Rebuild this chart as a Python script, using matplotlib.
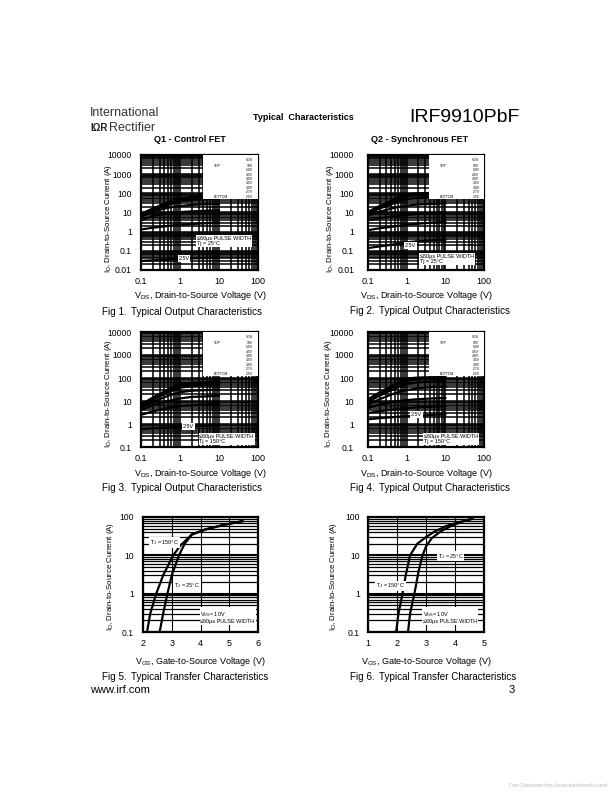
import matplotlib
matplotlib.use("Agg")
import matplotlib.pyplot as plt
from matplotlib.patches import Rectangle

plt.rcParams['font.family'] = ['Liberation Sans', 'DejaVu Sans']
plt.rcParams['mathtext.fontset'] = 'custom'
plt.rcParams['mathtext.rm'] = 'Liberation Sans'
plt.rcParams['mathtext.it'] = 'Liberation Sans'

# ---------------- data ----------------
vgs_legend = ["10V", "5.0V", "4.5V", "4.0V", "3.5V", "3.0V", "2.7V", "2.5V"]
vds_points = [0.1, 0.2, 0.5, 1, 2, 5, 10]

# Fig 1: Q1, Tj = 25C
q1_25_id = [
    [8.5, 16, 35, 55, 65, 70, 72],
    [8, 15, 32, 50, 60, 65, 68],
    [7.5, 14, 30, 45, 55, 60, 62],
    [7, 13, 25, 38, 45, 50, 52],
    [6, 11, 18, 22, 25, 27, 28],
    [4, 6.5, 9, 10.5, 11.5, 12.5, 13],
    [1.3, 1.6, 2.0, 2.3, 2.5, 2.8, 3.0],
    [0.03, 0.032, 0.035, 0.037, 0.04, 0.042, 0.044],
]
# Fig 2: Q2, Tj = 25C
q2_25_id = [
    [11, 22, 50, 90, 100, 105, 108],
    [10, 20, 45, 80, 95, 100, 100],
    [9.5, 18, 40, 70, 85, 90, 92],
    [9, 16, 32, 50, 60, 65, 68],
    [7, 11, 18, 23, 26, 28, 30],
    [4, 5, 6.5, 7.5, 8.5, 9.5, 10],
    [1.2, 1.5, 1.9, 2.3, 2.6, 3.0, 3.2],
    [0.14, 0.17, 0.22, 0.28, 0.32, 0.36, 0.38],
]
# Fig 3: Q1, Tj = 150C
q1_150_id = [
    [7, 14, 32, 55, 62, 65, 67],
    [6.5, 13, 30, 50, 58, 62, 64],
    [6, 12, 28, 46, 54, 57, 59],
    [5.5, 11, 24, 38, 45, 48, 50],
    [5, 9, 17, 24, 28, 30, 31],
    [4, 6.5, 10, 13, 15, 16, 17],
    [2.5, 3.5, 5, 6, 6.5, 7, 7.5],
    [0.6, 0.65, 0.7, 0.75, 0.8, 0.85, 0.9],
]
# Fig 4: Q2, Tj = 150C
q2_150_id = [
    [12, 24, 55, 95, 105, 108, 110],
    [11, 22, 50, 85, 98, 102, 104],
    [10, 20, 45, 75, 88, 92, 95],
    [9, 17, 35, 55, 65, 70, 72],
    [7, 12, 22, 30, 36, 40, 42],
    [5, 7, 9.5, 11, 12, 13, 13.5],
    [3, 3.6, 4.3, 4.9, 5.3, 5.7, 6],
    [1.6, 1.8, 2.0, 2.2, 2.3, 2.5, 2.6],
]

# Fig 5: Q1 transfer
q1_vgs_150 = [2.14, 2.25, 2.46, 2.7, 3.05, 3.3, 3.7, 4.2, 4.8, 5.46]
q1_id_150 = [0.1, 0.3, 1, 3, 10, 18, 35, 48, 62, 78]
q1_vgs_25 = [2.58, 2.7, 2.85, 3.0, 3.25, 3.45, 3.7, 4.2, 4.8, 5.46]
q1_id_25 = [0.1, 0.3, 1, 3, 10, 20, 35, 48, 62, 78]
# Fig 6: Q2 transfer
q2_vgs_150 = [1.97, 2.05, 2.19, 2.3, 2.45, 2.7, 3.0, 3.3, 3.7, 4.1, 4.6]
q2_id_150 = [0.1, 0.3, 1, 3, 10, 20, 30, 42, 58, 72, 90]
q2_vgs_25 = [2.38, 2.45, 2.6, 2.75, 2.88, 3.0, 3.2, 3.5, 3.9, 4.3, 4.6]
q2_id_25 = [0.1, 0.3, 1, 4, 10, 17, 28, 42, 60, 78, 90]

# ---------------- figure ----------------
W, H = 612, 792
fig = plt.figure(figsize=(6.12, 7.92), dpi=100)


def ax_at(x0, y0, x1, y1):
    return fig.add_axes([x0 / W, 1 - y1 / H, (x1 - x0) / W, (y1 - y0) / H])


def ftext(x, y, s, **kw):
    kw.setdefault('ha', 'left')
    kw.setdefault('va', 'center')
    fig.text(x / W, 1 - y / H, s, **kw)


def style_frame(ax, ypad):
    for sp in ax.spines.values():
        sp.set_linewidth(1.6)
        sp.set_color('black')
    ax.tick_params(which='both', length=0)
    ax.tick_params(axis='x', pad=5, labelsize=6.5)
    ax.tick_params(axis='y', pad=ypad, labelsize=6.2)


def output_chart(ax, curves, ylim, yticks, ylabels, ypad):
    ax.set_xscale('log')
    ax.set_yscale('log')
    for ids in curves:
        ax.plot(vds_points, ids, color='black', lw=1.6, zorder=3)
    ax.set_xlim(0.1, 100)
    ax.set_ylim(*ylim)
    ax.set_xticks([0.1, 1, 10, 100])
    ax.set_xticklabels(["0.1", "1", "10", "100"])
    ax.set_yticks(yticks)
    ax.set_yticklabels(ylabels)
    ax.grid(which='both', color='black', lw=1.1, zorder=1)
    ax.set_axisbelow(True)
    style_frame(ax, ypad)
    # legend box
    ax.add_patch(Rectangle((0.53, 0.62), 0.47, 0.38, transform=ax.transAxes,
                           facecolor='white', edgecolor='none', zorder=4))
    ax.text(0.93, 0.955, "VGS", transform=ax.transAxes, fontsize=2.4,
            ha='center', va='center', zorder=5)
    n = len(vgs_legend)
    for i, lab in enumerate(vgs_legend):
        yy = 0.905 - i * 0.038
        ax.text(0.93, yy, lab, transform=ax.transAxes, fontsize=2.4,
                ha='center', va='center', zorder=5)
    ax.text(0.62, 0.905, "TOP", transform=ax.transAxes, fontsize=2.4,
            ha='left', va='center', zorder=5)
    ax.text(0.62, 0.905 - (n - 1) * 0.038, "BOTTOM", transform=ax.transAxes,
            fontsize=2.4, ha='left', va='center', zorder=5)


bbox_w = dict(facecolor='white', edgecolor='none', pad=0.6)

# Fig 1
ax1 = ax_at(141, 155, 258, 270)
output_chart(ax1, q1_25_id, (0.01, 10000),
             [0.01, 0.1, 1, 10, 100, 1000, 10000],
             ["0.01", "0.1", "1", "10", "100", "1000", "10000"], 6.5)
ax1.text(0.48, 0.25, "≤60µs PULSE WIDTH\nTj = 25°C", transform=ax1.transAxes,
         fontsize=4, ha='left', va='center', bbox=bbox_w, zorder=6, linespacing=1.0)
ax1.text(0.32, 0.10, "2.5V", transform=ax1.transAxes, fontsize=4,
         ha='left', va='center', bbox=bbox_w, zorder=6)

# Fig 2
ax2 = ax_at(368, 155, 484, 270)
output_chart(ax2, q2_25_id, (0.01, 10000),
             [0.01, 0.1, 1, 10, 100, 1000, 10000],
             ["0.01", "0.1", "1", "10", "100", "1000", "10000"], 10)
ax2.text(0.45, 0.095, "≤60µs PULSE WIDTH\nTj = 25°C", transform=ax2.transAxes,
         fontsize=4, ha='left', va='center', bbox=bbox_w, zorder=6, linespacing=1.0)
ax2.text(0.32, 0.215, "2.5V", transform=ax2.transAxes, fontsize=4,
         ha='left', va='center', bbox=bbox_w, zorder=6)

# Fig 3
ax3 = ax_at(141, 332, 258, 447)
output_chart(ax3, q1_150_id, (0.1, 10000),
             [0.1, 1, 10, 100, 1000, 10000],
             ["0.1", "1", "10", "100", "1000", "10000"], 6.5)
ax3.text(0.50, 0.07, "≤60µs PULSE WIDTH\nTj = 150°C", transform=ax3.transAxes,
         fontsize=4, ha='left', va='center', bbox=bbox_w, zorder=6, linespacing=1.0)
ax3.text(0.36, 0.18, "2.5V", transform=ax3.transAxes, fontsize=4,
         ha='left', va='center', bbox=bbox_w, zorder=6)

# Fig 4
ax4 = ax_at(368, 332, 484, 447)
output_chart(ax4, q2_150_id, (0.1, 10000),
             [0.1, 1, 10, 100, 1000, 10000],
             ["0.1", "1", "10", "100", "1000", "10000"], 10)
ax4.text(0.48, 0.07, "≤60µs PULSE WIDTH\nTj = 150°C", transform=ax4.transAxes,
         fontsize=4, ha='left', va='center', bbox=bbox_w, zorder=6, linespacing=1.0)
ax4.text(0.37, 0.285, "2.5V", transform=ax4.transAxes, fontsize=4,
         ha='left', va='center', bbox=bbox_w, zorder=6)


def transfer_chart(ax, x150, y150, x25, y25, xlim, ypad):
    ax.set_yscale('log')
    ax.plot(x150, y150, color='black', lw=1.6, zorder=3)
    ax.plot(x25, y25, color='black', lw=1.6, zorder=3)
    ax.set_xlim(*xlim)
    ax.set_ylim(0.1, 100)
    ax.set_xticks(list(range(xlim[0], xlim[1] + 1)))
    ax.set_yticks([0.1, 1, 10, 100])
    ax.set_yticklabels(["0.1", "1", "10", "100"])
    ax.grid(which='major', axis='x', color='black', lw=0.8, zorder=1)
    ax.grid(which='major', axis='y', color='black', lw=1.5, zorder=1)
    ax.grid(which='minor', axis='y', color='black', lw=0.9, zorder=1)
    ax.set_axisbelow(True)
    style_frame(ax, ypad)


# Fig 5
ax5 = ax_at(143, 517, 258, 632)
transfer_chart(ax5, q1_vgs_150, q1_id_150, q1_vgs_25, q1_id_25, (2, 6), 6.5)
ax5.text(0.06, 0.78, "T$_J$ = 150°C", transform=ax5.transAxes, fontsize=4,
         ha='left', va='center', bbox=bbox_w, zorder=6)
ax5.text(0.27, 0.40, "T$_J$ = 25°C", transform=ax5.transAxes, fontsize=4,
         ha='left', va='center', bbox=bbox_w, zorder=6)
ax5.text(0.50, 0.13, "V$_{DS}$= 10V\n≤60µs PULSE WIDTH", transform=ax5.transAxes,
         fontsize=4, ha='left', va='center', bbox=bbox_w, zorder=6, linespacing=1.1)

# Fig 6
ax6 = ax_at(368, 517, 484, 632)
transfer_chart(ax6, q2_vgs_150, q2_id_150, q2_vgs_25, q2_id_25, (1, 5), 6)
ax6.text(0.60, 0.66, "T$_J$ = 25°C", transform=ax6.transAxes, fontsize=4,
         ha='left', va='center', bbox=bbox_w, zorder=6)
ax6.text(0.07, 0.40, "T$_J$ = 150°C", transform=ax6.transAxes, fontsize=4,
         ha='left', va='center', bbox=bbox_w, zorder=6)
ax6.text(0.47, 0.13, "V$_{DS}$= 10V\n≤60µs PULSE WIDTH", transform=ax6.transAxes,
         fontsize=4, ha='left', va='center', bbox=bbox_w, zorder=6, linespacing=1.1)

# ---------------- labels ----------------
ylab = "I$_D$, Drain-to-Source Current (A)"
for (xc, yc) in [(109, 218), (330, 218), (108, 393), (328, 393), (110, 576), (334, 576)]:
    ftext(xc, yc, ylab, rotation=90, ha='center', va='center', fontsize=5.7)

xlab_ds = "V$_{DS}$, Drain-to-Source Voltage (V)"
xlab_gs = "V$_{GS}$, Gate-to-Source Voltage (V)"
for (xc, yc) in [(200, 296), (426, 296), (200, 473), (426, 473)]:
    ftext(xc, yc, xlab_ds, ha='center', fontsize=6.5)
for (xc, yc) in [(200, 662), (426, 662)]:
    ftext(xc, yc, xlab_gs, ha='center', fontsize=6.5)

captions = [
    (102, 312, "Fig 1.", "Typical Output Characteristics"),
    (350, 311, "Fig 2.", "Typical Output Characteristics"),
    (102, 488, "Fig 3.", "Typical Output Characteristics"),
    (350, 488, "Fig 4.", "Typical Output Characteristics"),
    (102, 677, "Fig 5.", "Typical Transfer Characteristics"),
    (350, 677, "Fig 6.", "Typical Transfer Characteristics"),
]
for (x0, y0, a, b) in captions:
    ftext(x0, y0, a, fontsize=7.1)
    ftext(x0 + 29, y0, b, fontsize=7.1)

ftext(190, 139, "Q1 - Control FET", ha='center', fontsize=6.5, fontweight='bold')
ftext(420, 139, "Q2 - Synchronous FET", ha='center', fontsize=6.5, fontweight='bold')

# header
ftext(90, 113, "International", fontsize=9, color='#333333')
ftext(90, 128, "IΩR", fontsize=7, fontweight='bold', color='#222222')
ftext(109, 128, "Rectifier", fontsize=9, color='#333333')
ftext(303, 118, "Typical  Characteristics", ha='center', fontsize=6.5, fontweight='bold')
ftext(520, 117, "IRF9910PbF", ha='right', fontsize=14)

# footer
ftext(90, 690, "www.irf.com", fontsize=8)
ftext(515, 690, "3", ha='right', fontsize=8)
ftext(608, 785, "Free Datasheet http://www.datasheet4u.com/", ha='right',
      fontsize=3.5, color='#bbbbbb')

fig.savefig("out.png", dpi=100)
